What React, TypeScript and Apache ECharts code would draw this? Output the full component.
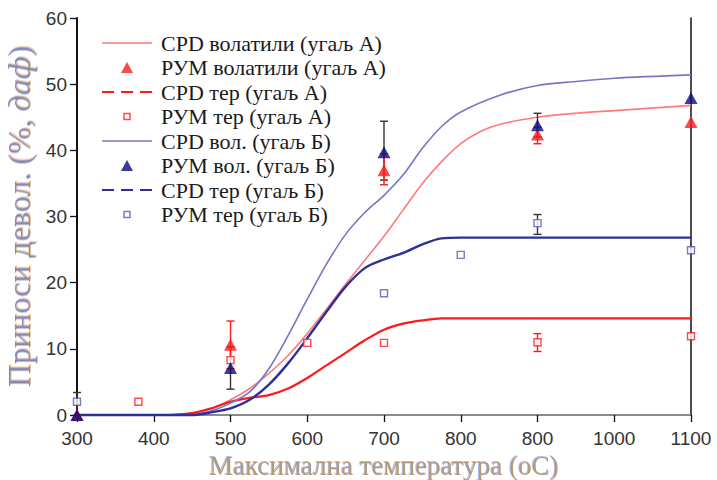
import React, { useEffect, useRef } from "react";
import * as echarts from "echarts";

// Tick labels along the temperature axis (300..1100, step 100)
const xTickLabels = ["300", "400", "500", "600", "700", "800", "800", "1000", "1100"];

// CPD model curves: [temperature, yield %]
const cpdVolA: number[][] = [
  [420, 0], [450, 0.3], [475, 1], [500, 2.3], [525, 4], [550, 6.3], [575, 9], [600, 12.3],
  [625, 16], [650, 19.8], [675, 23.4], [700, 27], [725, 31], [750, 35], [775, 38.3],
  [800, 41], [825, 42.8], [850, 43.9], [900, 45], [950, 45.6], [1000, 46], [1100, 46.8],
];
const cpdTarA: number[][] = [
  [420, 0], [450, 0.3], [475, 1], [500, 2], [525, 2.6], [550, 3], [575, 4], [600, 5.6],
  [625, 7.5], [650, 9.4], [675, 11.3], [700, 12.9], [725, 13.8], [750, 14.3], [775, 14.6],
  [800, 14.6], [1100, 14.6],
];
const cpdVolB: number[][] = [
  [300, 0], [440, 0], [460, 0.2], [480, 0.8], [500, 1.8], [525, 3.5], [550, 7], [575, 12],
  [600, 17.5], [625, 22.8], [650, 27.3], [675, 30.6], [700, 33.2], [725, 36.3], [750, 40.3],
  [775, 43.6], [800, 45.8], [850, 48.3], [900, 49.8], [950, 50.4], [1000, 50.9], [1100, 51.4],
];
const cpdTarB: number[][] = [
  [300, 0], [450, 0], [475, 0.4], [500, 1], [525, 2.3], [550, 4.6], [575, 7.8], [600, 11.6],
  [625, 15.6], [650, 19.4], [675, 22.2], [700, 23.5], [725, 24.5], [750, 25.8], [775, 26.7],
  [800, 26.8], [1100, 26.8],
];

// Measured (РУМ) points: [temperature, yield %]
const rumVolA: number[][] = [[300, 0], [500, 10.6], [700, 37], [900, 42.4], [1100, 44.3]];
const rumTarA: number[][] = [[380, 2], [500, 8.3], [600, 10.9], [700, 10.9], [900, 11], [1100, 11.9]];
const rumVolB: number[][] = [[300, 0], [500, 7.1], [700, 39.7], [900, 43.8], [1100, 47.9]];
const rumTarB: number[][] = [[300, 2], [700, 18.4], [800, 24.2], [900, 29], [1100, 24.9]];

// Error bars: [temperature, low, high]
const darkBars: number[][] = [[300, 0, 3.4], [500, 3.9, 10.3], [700, 35.5, 44.4], [900, 42, 45.6], [900, 27.3, 30.3]];
const redBars: number[][] = [[500, 7, 14.2], [700, 34.8, 39.5], [900, 41, 43.5], [900, 9.6, 12.3]];

const SERIF = "'Liberation Serif', 'Times New Roman', serif";
const SANS = "'Liberation Sans', Arial, sans-serif";

const COL_RED_LIGHT = "#ff7a7a";
const COL_RED = "#ff1a1a";
const COL_BLUE_LIGHT = "#7676c8";
const COL_NAVY = "#2f2f9c";
const COL_TRI_NAVY = "#0a0a80";
const COL_SQ_BLUE = "#5a5ab0";

// Legend icons: markers drawn inside a 14x14 box so they stay small,
// line samples spanning the full 50px icon width
const ICON_TRI = "path://M0,0M14,14M1,12.5L7,1.5L13,12.5Z";
const ICON_SQ = "path://M0,0M14,14M4,4L10,4L10,10L4,10Z";
const ICON_SOLID = "path://M0,0H50V1.6H0Z";
const ICON_DASHED = "path://M0,0H12V2H0ZM19,0H31V2H19ZM38,0H50V2H38Z";

function errorBarRenderer(color: string) {
  return (params: any, api: any) => {
    const x = api.value(0);
    const lo = api.coord([x, api.value(1)]);
    const hi = api.coord([x, api.value(2)]);
    const w = 4;
    const style = { stroke: color, lineWidth: 1.4 };
    return {
      type: "group",
      children: [
        { type: "line", shape: { x1: lo[0], y1: lo[1], x2: hi[0], y2: hi[1] }, style },
        { type: "line", shape: { x1: lo[0] - w, y1: lo[1], x2: lo[0] + w, y2: lo[1] }, style },
        { type: "line", shape: { x1: hi[0] - w, y1: hi[1], x2: hi[0] + w, y2: hi[1] }, style },
      ],
    };
  };
}

export default function App() {
  const ref = useRef<HTMLDivElement>(null);

  useEffect(() => {
    if (!ref.current) return;
    const chart = echarts.init(ref.current, undefined, { renderer: "svg" });

    const lineSeries = (name: string, data: number[][], color: string, width: number) => ({
      name,
      type: "line",
      data,
      showSymbol: false,
      symbol: "none",
      smooth: 0.3,
      lineStyle: { color, width },
      itemStyle: { color },
      clip: false,
      z: 2,
    });

    chart.setOption({
      animation: false,
      backgroundColor: "#ffffff",
      grid: { left: 77, right: 26, top: 18, bottom: 65, containLabel: false, outerBoundsMode: "none" },
      legend: {
        orient: "vertical",
        left: 97,
        top: 27,
        itemWidth: 50,
        itemHeight: 14,
        itemGap: 2.5,
        selectedMode: false,
        textStyle: {
          fontFamily: SERIF,
          fontSize: 22,
          color: "#1a1a1a",
          lineHeight: 20,
          padding: [0, 0, 0, 4],
        },
        data: [
          { name: "CPD волатили (угаљ А)", icon: ICON_SOLID },
          { name: "РУМ волатили (угаљ А)", icon: ICON_TRI },
          { name: "CPD тер (угаљ А)", icon: ICON_DASHED },
          { name: "РУМ тер (угаљ А)", icon: ICON_SQ, itemStyle: { color: "none", borderColor: COL_RED, borderWidth: 1.5 } },
          { name: "CPD вол. (угаљ Б)", icon: ICON_SOLID },
          { name: "РУМ вол. (угаљ Б)", icon: ICON_TRI },
          { name: "CPD тер (угаљ Б)", icon: ICON_DASHED },
          { name: "РУМ тер (угаљ Б)", icon: ICON_SQ, itemStyle: { color: "none", borderColor: COL_SQ_BLUE, borderWidth: 1.5 } },
        ],
      },
      xAxis: [
        {
          type: "value",
          min: 300,
          max: 1100,
          interval: 100,
          name: "Максимална температура (oC)",
          nameLocation: "middle",
          nameGap: 31,
          nameTextStyle: {
            fontFamily: SERIF,
            fontSize: 27,
            color: "#b39a78",
            textShadowColor: "rgba(110,130,210,0.55)",
            textShadowOffsetX: -1,
            textShadowOffsetY: -1,
            textShadowBlur: 1,
          },
          axisLine: { show: false },
          axisTick: { show: true, inside: false, length: 7, lineStyle: { color: "#111", width: 1.3 } },
          axisLabel: {
            fontFamily: SANS,
            fontSize: 19,
            color: "#333",
            margin: 14,
            formatter: (v: number) => xTickLabels[Math.round((v - 300) / 100)] ?? "",
          },
          splitLine: { show: false },
        },
        {
          type: "value",
          position: "top",
          min: 300,
          max: 1100,
          axisLine: { show: true, lineStyle: { color: "#666", width: 1.5 } },
          axisTick: { show: false },
          axisLabel: { show: false },
          splitLine: { show: false },
        },
      ],
      yAxis: [
        {
          type: "value",
          min: 0,
          max: 60,
          interval: 10,
          name: "Приноси девол. (%, {i|даф})",
          nameLocation: "middle",
          nameGap: 34,
          nameRotate: 90,
          nameTextStyle: {
            fontFamily: SERIF,
            fontSize: 32,
            color: "#8088b8",
            textShadowColor: "rgba(230,170,90,0.7)",
            textShadowOffsetX: 1,
            textShadowOffsetY: 1,
            textShadowBlur: 1,
            rich: {
              i: {
                fontFamily: SERIF,
                fontSize: 32,
                fontStyle: "italic",
                color: "#8088b8",
                textShadowColor: "rgba(230,170,90,0.7)",
                textShadowOffsetX: 1,
                textShadowOffsetY: 1,
              },
            },
          },
          axisLine: { show: true, lineStyle: { color: "#111", width: 2 } },
          axisTick: { show: true, inside: false, length: 7, lineStyle: { color: "#111", width: 1.3 } },
          axisLabel: { fontFamily: SANS, fontSize: 19, color: "#333", margin: 10 },
          splitLine: { show: false },
        },
        {
          type: "value",
          position: "right",
          min: 0,
          max: 60,
          axisLine: { show: true, lineStyle: { color: "#111", width: 1.5 } },
          axisTick: { show: false },
          axisLabel: { show: false },
          splitLine: { show: false },
        },
      ],
      series: [
        lineSeries("CPD волатили (угаљ А)", cpdVolA, COL_RED_LIGHT, 1.6),
        lineSeries("CPD тер (угаљ А)", cpdTarA, COL_RED, 2.2),
        lineSeries("CPD вол. (угаљ Б)", cpdVolB, COL_BLUE_LIGHT, 1.6),
        lineSeries("CPD тер (угаљ Б)", cpdTarB, COL_NAVY, 2.4),
        {
          type: "custom",
          name: "err-dark",
          data: darkBars,
          renderItem: errorBarRenderer("#333"),
          clip: false,
          z: 3,
        },
        {
          type: "custom",
          name: "err-red",
          data: redBars,
          renderItem: errorBarRenderer(COL_RED),
          clip: false,
          z: 3,
        },
        {
          name: "РУМ тер (угаљ А)",
          type: "scatter",
          data: rumTarA,
          symbol: "rect",
          symbolSize: 7,
          itemStyle: { color: "#fff", borderColor: COL_RED, borderWidth: 1.4 },
          clip: false,
          z: 4,
        },
        {
          name: "РУМ тер (угаљ Б)",
          type: "scatter",
          data: rumTarB,
          symbol: "rect",
          symbolSize: 7,
          itemStyle: { color: "#fff", borderColor: COL_SQ_BLUE, borderWidth: 1.4 },
          clip: false,
          z: 4,
        },
        {
          name: "РУМ волатили (угаљ А)",
          type: "scatter",
          data: rumVolA,
          symbol: "triangle",
          symbolSize: [13, 12],
          itemStyle: { color: COL_RED },
          clip: false,
          z: 5,
        },
        {
          name: "РУМ вол. (угаљ Б)",
          type: "scatter",
          data: rumVolB,
          symbol: "triangle",
          symbolSize: [13, 12],
          itemStyle: { color: COL_TRI_NAVY },
          clip: false,
          z: 5,
        },
      ],
    });

    return () => chart.dispose();
  }, []);

  return <div ref={ref} style={{ width: 717, height: 480, position: "absolute", left: 0, top: 0 }} />;
}
